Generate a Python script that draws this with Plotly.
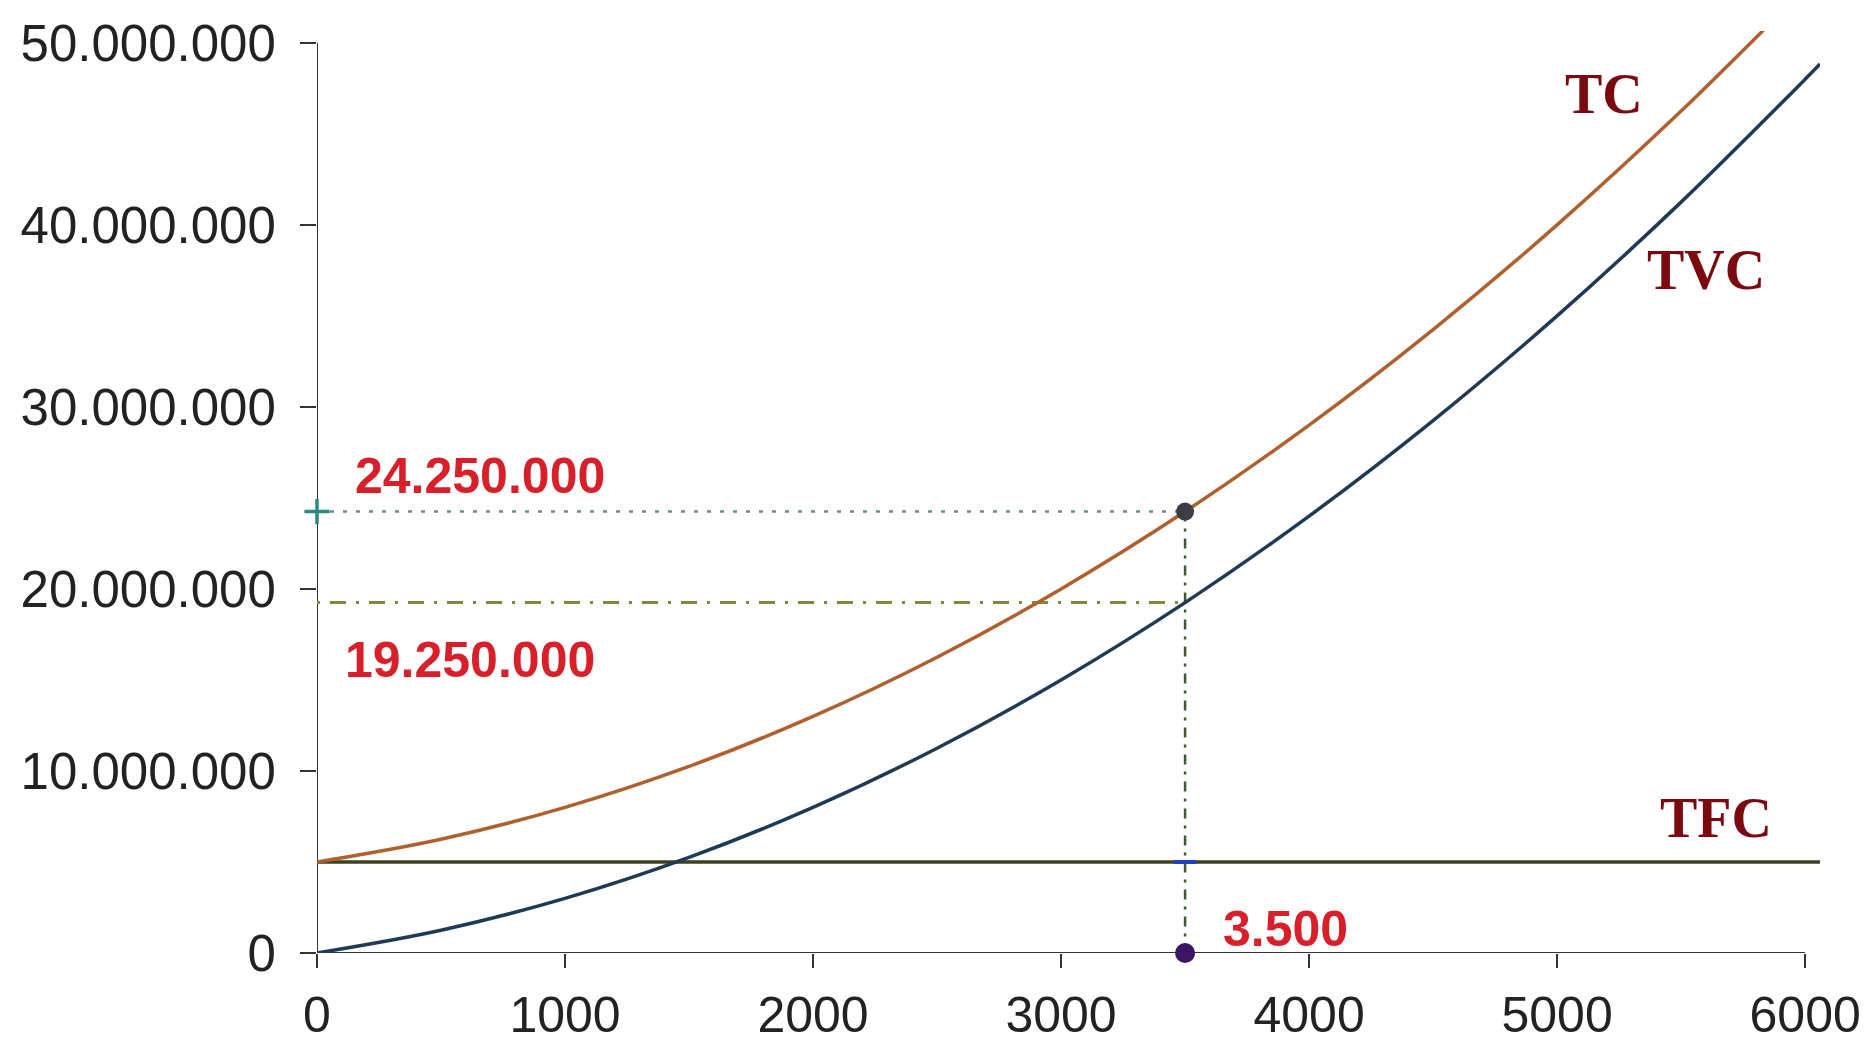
import plotly.graph_objects as go

# Output quantity (Q) and total cost readings
quantity = [0, 500, 1000, 1500, 2000, 2500, 3000, 3500, 4000, 4500, 5000, 5500, 6000, 6060]
tvc = [0, 1250000, 3000000, 5250000, 8000000, 11250000, 15000000, 19250000,
       24000000, 29250000, 35000000, 41250000, 48000000, 48840000]
tc = [5000000, 6250000, 8000000, 10250000, 13000000, 16250000, 20000000, 24250000,
      29000000, 34250000, 40000000, 46250000, 53000000, 53840000]
tfc_x = [0, 6060]
tfc = [5000000, 5000000]

# Highlighted production level and its costs
q_star = 3500
tc_star = 24250000
tvc_star = 19250000
tfc_level = 5000000

x_ticks = [0, 1000, 2000, 3000, 4000, 5000, 6000]
y_ticks = [0, 10000000, 20000000, 30000000, 40000000, 50000000]


def dotted(n):
    return f"{n:,}".replace(",", ".")


fig = go.Figure()

# Guide lines from the highlighted point to the axes
fig.add_trace(go.Scatter(x=[0, q_star], y=[tc_star, tc_star], mode="lines",
                         line=dict(color="#6f8a88", width=2.5, dash="4px,9px"), hoverinfo="skip"))
fig.add_trace(go.Scatter(x=[0, q_star], y=[tvc_star, tvc_star], mode="lines",
                         line=dict(color="#7d8c3a", width=3, dash="3px,10px,16px,10px"),
                         hoverinfo="skip"))
fig.add_trace(go.Scatter(x=[q_star, q_star], y=[tc_star, 0], mode="lines",
                         line=dict(color="#3f5a2c", width=2.5, dash="10px,7px,3px,7px"),
                         hoverinfo="skip"))

# Cost curves
fig.add_trace(go.Scatter(x=tfc_x, y=tfc, mode="lines",
                         line=dict(color="#3a4220", width=3.5), name="TFC"))
fig.add_trace(go.Scatter(x=quantity, y=tvc, mode="lines", line_shape="spline",
                         line=dict(color="#1e3a55", width=3.5), name="TVC"))
fig.add_trace(go.Scatter(x=quantity, y=tc, mode="lines", line_shape="spline",
                         line=dict(color="#b0602e", width=3.5), name="TC"))

# Point markers
fig.add_trace(go.Scatter(x=[0], y=[tc_star], mode="markers", cliponaxis=False,
                         marker=dict(symbol="cross-thin", size=18,
                                     line=dict(color="#2a8a80", width=3.5))))
fig.add_trace(go.Scatter(x=[q_star], y=[tc_star], mode="markers", cliponaxis=False,
                         marker=dict(symbol="circle", size=18, color="#3a3f45")))
fig.add_trace(go.Scatter(x=[q_star], y=[tfc_level], mode="markers", cliponaxis=False,
                         marker=dict(symbol="line-ew", size=16,
                                     line=dict(color="#2040c0", width=4))))
fig.add_trace(go.Scatter(x=[q_star], y=[0], mode="markers", cliponaxis=False,
                         marker=dict(symbol="circle", size=20, color="#3b1466")))

# Axis lines
fig.add_shape(type="line", x0=0, x1=max(x_ticks), y0=0, y1=0,
              line=dict(color="#333333", width=2), layer="below")
fig.add_shape(type="line", x0=0, x1=0, y0=0, y1=max(y_ticks),
              line=dict(color="#333333", width=2), layer="below")

red = "#d8202a"
sans_bold = dict(family="Liberation Sans, Arial", size=50, color=red)
fig.add_annotation(x=0, y=tc_star, text=f"<b>{dotted(tc_star)}</b>", showarrow=False,
                   xanchor="left", yanchor="middle", xshift=36, yshift=36, font=sans_bold)
fig.add_annotation(x=0, y=tvc_star, text=f"<b>{dotted(tvc_star)}</b>", showarrow=False,
                   xanchor="left", yanchor="middle", xshift=26, yshift=-57, font=sans_bold)
fig.add_annotation(x=q_star, y=0, text=f"<b>{dotted(q_star)}</b>", showarrow=False,
                   xanchor="left", yanchor="middle", xshift=36, yshift=24, font=sans_bold)

serif = dict(family="Liberation Serif, Times New Roman", size=56, color="#7a0a10")
fig.add_annotation(x=5190, y=47200000, text="<b>TC</b>", showarrow=False, font=serif)
fig.add_annotation(x=5600, y=37500000, text="<b>TVC</b>", showarrow=False, font=serif)
fig.add_annotation(x=5641, y=7400000, text="<b>TFC</b>", showarrow=False, font=serif)

tick_font = dict(family="Liberation Sans, Arial", size=51, color="#222222")
x_tick_font = dict(family="Liberation Sans, Arial", size=50, color="#222222")
fig.update_layout(
    width=1868, height=1047,
    margin=dict(l=317, r=48, t=31, b=94),
    paper_bgcolor="white", plot_bgcolor="white",
    showlegend=False,
    separators=",.",
    xaxis=dict(range=[0, 6060], tickvals=x_ticks, tickformat="d",
               ticks="outside", ticklen=14, tickwidth=2, tickcolor="#333333",
               showgrid=False, zeroline=False, showline=False, automargin=False,
               tickfont=x_tick_font, ticklabelstandoff=4),
    yaxis=dict(range=[0, 50650000], tickvals=y_ticks, tickformat=",d",
               ticks="outside", ticklen=16, tickwidth=2, tickcolor="#333333",
               showgrid=False, zeroline=False, showline=False, automargin=False,
               tickfont=tick_font, ticklabelstandoff=14),
)

fig.write_html("out.html")
